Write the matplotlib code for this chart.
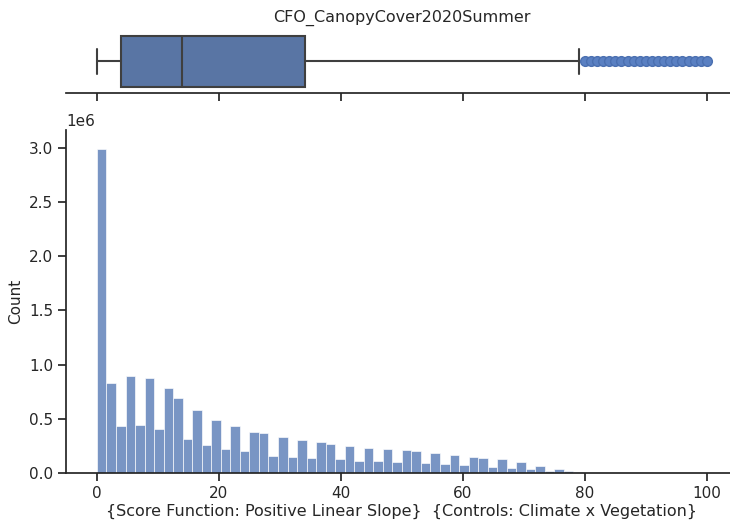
import numpy as np
import matplotlib
matplotlib.use('Agg')
import matplotlib.pyplot as plt
import seaborn as sns

# histogram counts (bin width 100/64)
bin_edges = np.linspace(0, 100, 65)
counts = [2.99, 0.83, 0.43, 0.89, 0.44, 0.88, 0.41, 0.78, 0.69, 0.31,
          0.58, 0.26, 0.49, 0.22, 0.43, 0.20, 0.38, 0.37, 0.16, 0.33,
          0.15, 0.30, 0.14, 0.29, 0.27, 0.13, 0.25, 0.11, 0.23, 0.11,
          0.22, 0.10, 0.21, 0.20, 0.09, 0.18, 0.08, 0.17, 0.07, 0.15,
          0.14, 0.055, 0.13, 0.045, 0.10, 0.037, 0.064, 0.018, 0.037, 0.018,
          0.006, 0.004, 0.003, 0.003, 0.002, 0.002, 0.002, 0.001, 0.001, 0.001,
          0.001, 0.001, 0.001, 0.001]
counts = np.array(counts) * 1e6

# box plot summary
box_q1 = 4.0
box_med = 14.0
box_q3 = 34.1
whis_lo = 0.0
whis_hi = 79.0
outliers = [80, 81, 82, 83, 84, 85, 86, 87, 88, 89, 90,
            91, 92, 93, 94, 95, 96, 97, 98, 99, 100]

title = 'CFO_CanopyCover2020Summer'
xlabel = '{Score Function: Positive Linear Slope}  {Controls: Climate x Vegetation}'

sns.set_theme(style='ticks')

fig = plt.figure(figsize=(7.3, 5.25), dpi=100)
# the original was cropped tight, so the axes run a bit past the right edge
ax_box = fig.add_axes([0.091, 0.823, 0.919, 0.120])
ax_hist = fig.add_axes([0.091, 0.099, 0.919, 0.653], sharex=ax_box)

# top: boxplot
stats = [dict(med=box_med, q1=box_q1, q3=box_q3, whislo=whis_lo,
              whishi=whis_hi, fliers=outliers)]
line_c = '#3f3f3f'
ax_box.bxp(stats, positions=[0], widths=0.8, vert=False, patch_artist=True,
           boxprops=dict(facecolor='#5975a4', edgecolor=line_c, linewidth=1.5),
           medianprops=dict(color=line_c, linewidth=1.5),
           whiskerprops=dict(color=line_c, linewidth=1.5),
           capprops=dict(color=line_c, linewidth=1.5),
           flierprops=dict(marker='o', markerfacecolor='#5a80c2',
                           markeredgecolor='#4a6fb0', markersize=7))
ax_box.set_ylim(0.5, -0.5)
ax_box.set_yticks([])
ax_box.tick_params(axis='x', labelbottom=False)
ax_box.set_title(title, fontsize=11.5)
sns.despine(ax=ax_box, left=True)

# bottom: histogram
ax_hist.hist(bin_edges[:-1], bins=bin_edges, weights=counts,
             color='#4c72b0', alpha=0.75, edgecolor='white', linewidth=0.6)
ax_hist.set_xlim(-5, 105)
ax_hist.set_ylim(0, 3.16e6)
ax_hist.set_xticks([0, 20, 40, 60, 80, 100])
ax_hist.set_ylabel('Count', fontsize=11)
ax_hist.set_xlabel(xlabel, fontsize=11.5, labelpad=2)
ax_hist.tick_params(labelsize=11)
ax_hist.yaxis.get_offset_text().set_fontsize(11)
sns.despine(ax=ax_hist)

fig.savefig('out.png', dpi=100)
